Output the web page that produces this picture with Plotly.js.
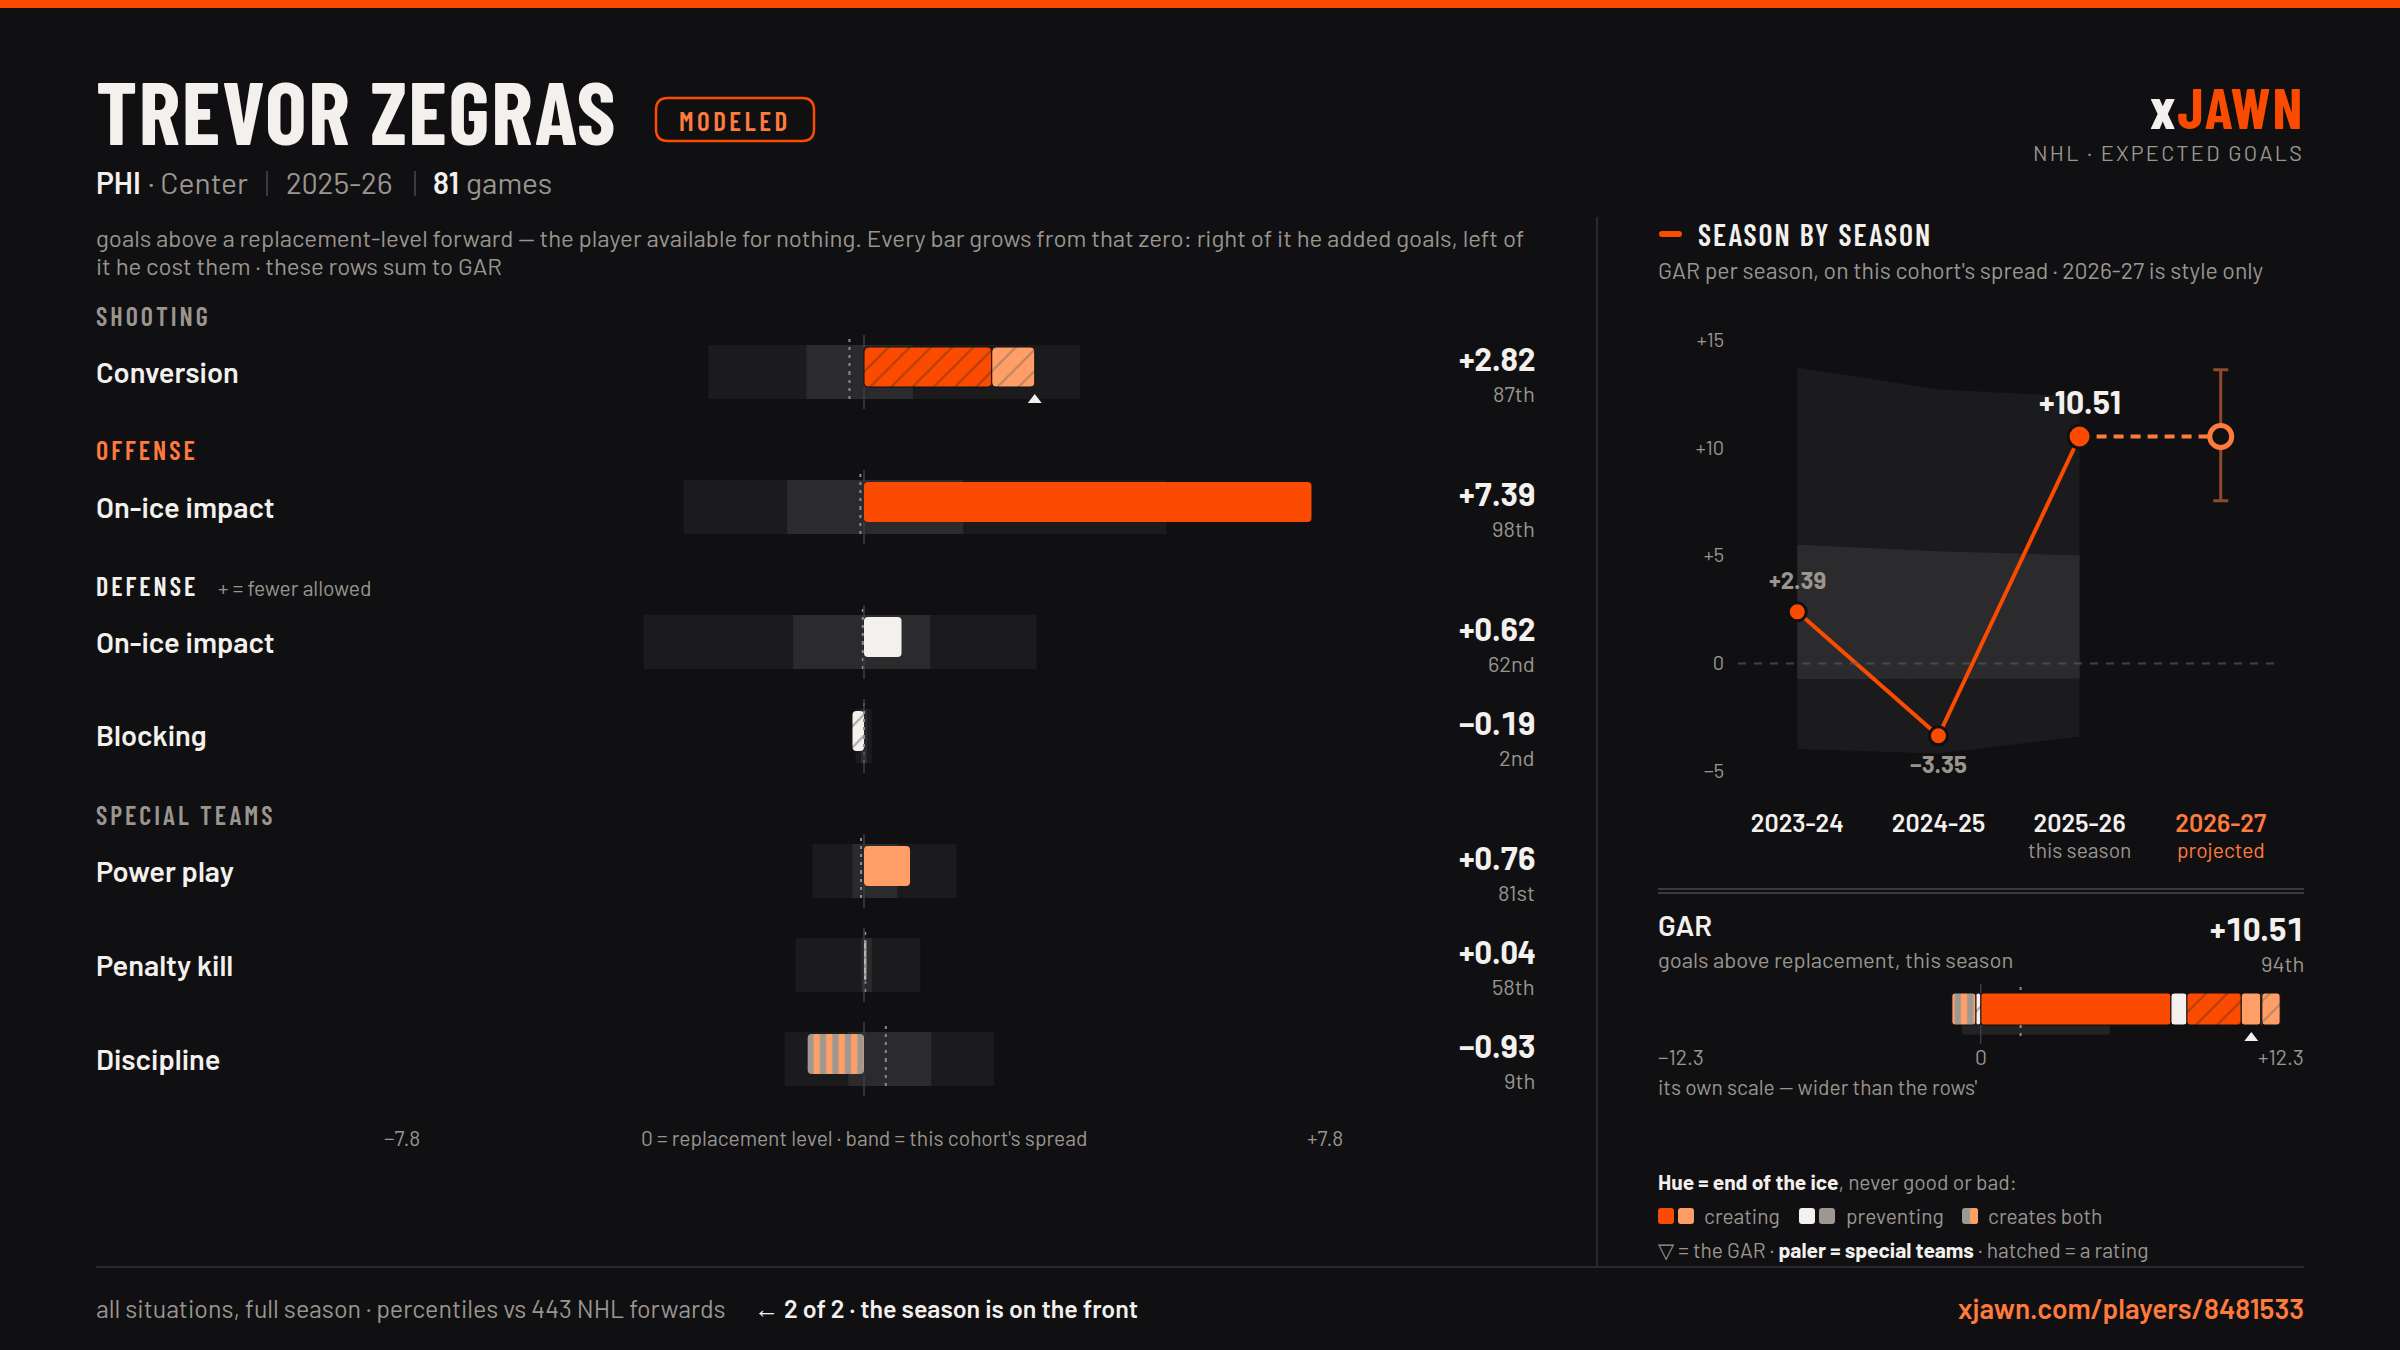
<!DOCTYPE html>
<html>
<head>
<meta charset="utf-8">
<script src="https://cdn.plot.ly/plotly-3.0.1.min.js"></script>
<style>
    html, body { margin: 0; padding: 0; background: #101012; }
    #graph { width: 2400px; height: 1350px; }
</style>
</head>
<body>
<div id="graph"></div>
<script>
//Component rows
let rowNames = ["Conversion", "On-ice impact", "On-ice impact", "Blocking", "Power play", "Penalty kill", "Discipline"];
let rowValues = [2.82, 7.39, 0.62, -0.19, 0.76, 0.04, -0.93];
let rowPercentiles = ["87th", "98th", "62nd", "2nd", "81st", "58th", "9th"];
let outerLow = [-2.57, -2.98, -3.64, -0.14, -0.85, -1.13, -1.31];
let outerHigh = [3.57, 5.0, 2.85, 0.13, 1.53, 0.93, 2.15];
let innerLow = [-0.95, -1.27, -1.17, -0.05, -0.19, -0.04, -0.26];
let innerHigh = [0.81, 1.64, 1.09, 0.05, 0.55, 0.13, 1.11];
let rowMedians = [-0.24, -0.06, -0.02, 0.0, -0.05, 0.02, 0.36];

//Pieces of the bars
let segRows = [0, 0, 1, 2, 3, 4, 5, 6];
let segValues = [2.11, 0.71, 7.39, 0.62, -0.19, 0.76, 0.04, -0.93];
let segKinds = ["creatingHatch", "paleHatch", "creating", "preventing", "preventingHatch", "pale", "sliver", "stripes"];

//Season chart
let seasons = ["2023-24", "2024-25", "2025-26", "2026-27"];
let seasonGar = [2.39, -3.35, 10.51];
let seasonOuterHigh = [13.7, 12.68, 12.37];
let seasonOuterLow = [-3.96, -4.17, -3.38];
let seasonInnerHigh = [5.5, 5.2, 5.0];
let seasonInnerLow = [-0.72, -0.72, -0.7];
let projectedGar = 10.51;
let projectedHigh = 13.6;
let projectedLow = 7.53;
let seasonTicks = [-5, 0, 5, 10, 15];

//GAR stacked bar
let garValue = 10.51;
let garPercentile = "94th";
let garRange = 12.3;
let garBandLow = -0.73;
let garBandHigh = 5.02;
let garMedian = 1.55;
let garPositiveOrder = [2, 3, 0, 5, 6, 1];
let garNegativeOrder = [4, 7];

//Style stuff
let BG = "#101012";
let ORANGE = "#FA4B00";
let PALE = "#FF9E66";
let ACCENT = "#FF7A3D";
let WHITE = "#F3F0ED";
let STONE = "#9E9892";
let GRAY = "#9A958F";
let OUTER = "#1B1B1D";
let INNER = "#2B2B2D";
let BODY = "Barlow, Roboto, sans-serif";
let NARROW = "'Barlow Condensed', 'Liberation Sans Narrow', Roboto, sans-serif";
let W = 2400, H = 1350;

let kinds = {
    creating: {color: ORANGE},
    pale: {color: PALE},
    preventing: {color: WHITE},
    sliver: {color: "#B8B3AD"},
    creatingHatch: {color: ORANGE, pattern: {shape: "/", bgcolor: ORANGE, fgcolor: "#B23C0A", size: 15, solidity: 0.13}},
    paleHatch: {color: PALE, pattern: {shape: "/", bgcolor: PALE, fgcolor: "#B98560", size: 15, solidity: 0.13}},
    preventingHatch: {color: WHITE, pattern: {shape: "/", bgcolor: WHITE, fgcolor: "#A9A6A3", size: 15, solidity: 0.13}},
    stripes: {color: PALE, pattern: {shape: "|", bgcolor: PALE, fgcolor: STONE, size: 12.5, solidity: 0.5}}
};

let fmt = (v)=>{
    return (v < 0 ? "\u2212" : "+") + Math.abs(v).toFixed(2);
}

let tabular = (str)=>{
    return `<span style="font-variant-numeric:tabular-nums">${str}</span>`;
}

let traces = [];
let annotations = [];
let shapes = [];

let text = (str, x, y, size, color, opts)=>{
    opts = opts || {};
    annotations.push({
        text: str,
        xref: "paper", yref: "paper",
        x: x / W, y: 1 - (y - 1) / H,
        xanchor: opts.anchor || "left", yanchor: "middle",
        showarrow: false, borderpad: 0,
        font: {family: opts.family || BODY, size: size, color: color, weight: opts.weight || 400}
    });
}

let pxLine = (x0, y0, x1, y1, color, width)=>{
    shapes.push({
        type: "line", xref: "paper", yref: "paper",
        x0: x0 / W, x1: x1 / W, y0: 1 - y0 / H, y1: 1 - y1 / H,
        line: {color: color, width: width}
    });
}

let roundRect = (x0, y0, x1, y1, r, fill, stroke, strokeWidth)=>{
    let px = (x)=> (x / W).toFixed(5);
    let py = (y)=> (1 - y / H).toFixed(5);
    let path = `M${px(x0 + r)},${py(y0)} L${px(x1 - r)},${py(y0)} Q${px(x1)},${py(y0)} ${px(x1)},${py(y0 + r)} ` +
        `L${px(x1)},${py(y1 - r)} Q${px(x1)},${py(y1)} ${px(x1 - r)},${py(y1)} L${px(x0 + r)},${py(y1)} ` +
        `Q${px(x0)},${py(y1)} ${px(x0)},${py(y1 - r)} L${px(x0)},${py(y0 + r)} Q${px(x0)},${py(y0)} ${px(x0 + r)},${py(y0)} Z`;
    shapes.push({type: "path", xref: "paper", yref: "paper", path: path, fillcolor: fill, line: {color: stroke || fill, width: strokeWidth || 0}});
}

let hBar = (value, base, axes, width, offset, marker)=>{
    traces.push({
        type: "bar", orientation: "h",
        x: [value], y: [0], base: [base],
        width: [width], offset: [offset],
        xaxis: axes[0], yaxis: axes[1],
        marker: marker, hoverinfo: "skip", showlegend: false
    });
}

//a vertical rule that stops at the bar and picks up again below it
let vLine = (x, top, barTop, barBottom, bottom, axes, line)=>{
    traces.push({
        type: "scatter", mode: "lines",
        x: [x, x, null, x, x], y: [top, barTop, null, barBottom, bottom],
        xaxis: axes[0], yaxis: axes[1],
        line: line, hoverinfo: "skip", showlegend: false
    });
}

let triangle = (x, y, axes)=>{
    traces.push({
        type: "scatter", mode: "markers",
        x: [x], y: [y],
        xaxis: axes[0], yaxis: axes[1],
        marker: {symbol: "triangle-up", size: 12, color: WHITE},
        hoverinfo: "skip", showlegend: false
    });
}

//Rows
let layout = {
    width: W, height: H,
    paper_bgcolor: BG, plot_bgcolor: "rgba(0,0,0,0)",
    margin: {l: 0, r: 0, t: 0, b: 0},
    barmode: "overlay",
    showlegend: false,
    xaxis: {visible: false, range: [-7.8, 7.8], domain: [391.7 / W, 1336.3 / W], anchor: "y", fixedrange: true}
};

let rowTops = [335, 470, 605, 699, 834, 928, 1022];
let ROW_H = 74;

let drawRows = ()=>{
    for(let i = 0; i < rowNames.length; i++){
        let axisName = i === 0 ? "yaxis" : `yaxis${i + 1}`;
        let yRef = i === 0 ? "y" : `y${i + 1}`;
        let top = rowTops[i];
        layout[axisName] = {visible: false, range: [-0.5, 0.5], domain: [1 - (top + ROW_H) / H, 1 - top / H], anchor: "x", fixedrange: true};
        let axes = ["x", yRef];

        let bandW = 54 / ROW_H;
        hBar(outerHigh[i] - outerLow[i], outerLow[i], axes, bandW, -bandW / 2, {color: OUTER, cornerradius: 0});
        hBar(innerHigh[i] - innerLow[i], innerLow[i], axes, bandW, -bandW / 2, {color: INNER, cornerradius: 0});

        //pieces stack out from zero
        let posBase = 0, negBase = 0;
        for(let s = 0; s < segValues.length; s++){
            if(segRows[s] !== i){
                continue;
            }
            let base = segValues[s] >= 0 ? posBase : negBase;
            let marker = Object.assign({cornerradius: 4}, kinds[segKinds[s]]);
            //only the two conversion pieces need a gap between them
            marker.line = {color: BG, width: i === 0 ? 1 : 0};
            hBar(segValues[s], base, axes, 40 / ROW_H, -15 / ROW_H, marker);
            if(segValues[s] >= 0){
                posBase += segValues[s];
            }else{
                negBase += segValues[s];
            }
        }

        vLine(rowMedians[i], 0.446, 0, 0, -0.432, axes, {color: "#8E8E90", width: 2, dash: "3px,5px"});
        vLine(0, 0.5, 25 / ROW_H, -15 / ROW_H, -0.5, axes, {color: "#3C3C44", width: 1.5});

        text(rowNames[i], 95, top + 37, 29, WHITE, {weight: 600});
        text(tabular(fmt(rowValues[i])), 1536, top + 24, 32, WHITE, {anchor: "right", weight: 700});
        text(rowPercentiles[i], 1536, top + 59, 22, GRAY, {anchor: "right"});
    }
    triangle(rowValues[0], -0.378, ["x", "y"]);

    annotations.push({
        text: "\u22127.8", xref: "x", yref: "paper", x: -7.8, xshift: 10, y: 1 - 1137 / H,
        xanchor: "center", yanchor: "middle", showarrow: false,
        font: {family: BODY, size: 21, color: GRAY}
    });
    annotations.push({
        text: "+7.8", xref: "x", yref: "paper", x: 7.8, xshift: -11, y: 1 - 1137 / H,
        xanchor: "center", yanchor: "middle", showarrow: false,
        font: {family: BODY, size: 21, color: GRAY}
    });
    text("0 = replacement level \u00b7 band = this cohort's spread", 864, 1138, 21, GRAY, {anchor: "center"});
}

//Season chart
let drawSeasons = ()=>{
    let axes = ["x2", "y8"];
    let past = seasons.slice(0, 3);
    let area = (values, fillTo, color)=>{
        traces.push({
            type: "scatter", mode: "lines", x: past, y: values,
            xaxis: axes[0], yaxis: axes[1],
            line: {width: 0}, fill: fillTo, fillcolor: color,
            hoverinfo: "skip", showlegend: false
        });
    }
    area(seasonOuterLow, "none", OUTER);
    area(seasonOuterHigh, "tonexty", OUTER);
    area(seasonInnerLow, "none", INNER);
    area(seasonInnerHigh, "tonexty", INNER);

    traces.push({
        type: "scatter", mode: "lines",
        x: seasons.slice(2), y: [seasonGar[2], projectedGar],
        xaxis: axes[0], yaxis: axes[1],
        line: {color: ACCENT, width: 4, dash: "10px,7px"},
        hoverinfo: "skip", showlegend: false
    });
    traces.push({
        type: "scatter", mode: "lines+markers",
        x: past, y: seasonGar,
        xaxis: axes[0], yaxis: axes[1],
        line: {color: ORANGE, width: 4},
        marker: {color: ORANGE, opacity: 1, size: [18, 18, 23], line: {color: BG, width: 3}},
        hoverinfo: "skip", showlegend: false
    });
    traces.push({
        type: "scatter", mode: "markers",
        x: [seasons[3]], y: [projectedGar],
        xaxis: axes[0], yaxis: axes[1],
        error_y: {type: "data", symmetric: false, array: [projectedHigh - projectedGar], arrayminus: [projectedGar - projectedLow], color: "#8D4A2C", thickness: 3, width: 7.5},
        marker: {color: BG, size: 22, line: {color: ACCENT, width: 5}},
        hoverinfo: "skip", showlegend: false
    });

    layout.xaxis2 = {
        type: "category", categoryorder: "array", categoryarray: seasons,
        range: [-0.42, 3.42], domain: [1738 / W, 2280 / W], anchor: "y8", fixedrange: true,
        showgrid: false, zeroline: false, showline: false,
        ticks: "outside", ticklen: 10.5, tickcolor: "rgba(0,0,0,0)",
        tickvals: seasons,
        ticktext: [seasons[0], seasons[1], seasons[2], `<span style="fill:${ACCENT}">${seasons[3]}</span>`],
        tickfont: {family: BODY, size: 25, color: WHITE, weight: 600}
    };
    layout.yaxis8 = {
        range: [-5.86, 16.83], domain: [1 - 790 / H, 1 - 300 / H], anchor: "x2", fixedrange: true,
        showgrid: false, zeroline: false, showline: false,
        ticks: "outside", ticklen: 9, tickcolor: "rgba(0,0,0,0)",
        tickvals: seasonTicks,
        ticktext: seasonTicks.map((v)=> v === 0 ? "0" : (v < 0 ? "\u2212" : "+") + Math.abs(v)),
        tickfont: {family: BODY, size: 20, color: GRAY}
    };

    shapes.push({
        type: "line", xref: "x2 domain", yref: "y8", x0: 0, x1: 1.004, y0: 0, y1: 0, layer: "above",
        line: {color: "rgba(90,90,94,0.7)", width: 2, dash: "8px,8px"}
    });

    let valueLabel = (i, shift, color, size)=>{
        annotations.push({
            text: fmt(seasonGar[i]), xref: "x2", yref: "y8", x: seasons[i], y: seasonGar[i],
            yshift: shift, xanchor: "center", yanchor: "middle", showarrow: false,
            font: {family: BODY, size: size, color: color, weight: 700}
        });
    }
    valueLabel(0, 32, GRAY, 24);
    valueLabel(1, -28, GRAY, 24);
    valueLabel(2, 35, WHITE, 32);

    let subLabel = (i, str, color)=>{
        annotations.push({
            text: str, xref: "x2", yref: "paper", x: seasons[i], y: 1 - 849.5 / H,
            xanchor: "center", yanchor: "middle", showarrow: false,
            font: {family: BODY, size: 21, color: color}
        });
    }
    subLabel(2, "this season", GRAY);
    subLabel(3, "projected", ACCENT);
}

//GAR bar on its own scale
let drawGar = ()=>{
    let axes = ["x3", "y9"];
    layout.xaxis3 = {visible: false, range: [-garRange, garRange], domain: [1664 / W, 2297.4 / W], anchor: "y9", fixedrange: true};
    layout.yaxis9 = {visible: false, range: [-0.5, 0.5], domain: [1 - 1044 / H, 1 - 984 / H], anchor: "x3", fixedrange: true};

    hBar(garBandHigh - garBandLow, garBandLow, axes, 41 / 60, -20.5 / 60, {color: "#232326", cornerradius: 0});

    let stack = (order)=>{
        let base = 0;
        for(let idx of order){
            let marker = Object.assign({cornerradius: 3}, kinds[segKinds[idx]]);
            marker.line = {color: BG, width: 1};
            hBar(segValues[idx], base, axes, 32 / 60, -11 / 60, marker);
            base += segValues[idx];
        }
    }
    stack(garPositiveOrder);
    stack(garNegativeOrder);

    vLine(garMedian, 0.45, 21 / 60, -11 / 60, -0.433, axes, {color: "#8E8E90", width: 2, dash: "3px,5px"});
    vLine(0, 0.5, 21 / 60, -11 / 60, -0.5, axes, {color: "#3C3C44", width: 1.5});
    triangle(garValue, -0.4, axes);
}

//All the text around the marks
let drawFrame = ()=>{
    shapes.push({type: "rect", xref: "paper", yref: "paper", x0: 0, x1: 1, y0: 1 - 8 / H, y1: 1, fillcolor: ORANGE, line: {width: 0}});

    text(`<span style="letter-spacing:1.6px">TREVOR ZEGRAS</span>`, 95, 111, 88, WHITE, {family: NARROW, weight: 700});
    roundRect(656, 98, 814, 141, 12, "rgba(0,0,0,0)", ORANGE, 2.5);
    text(`<span style="letter-spacing:3.5px">MODELED</span>`, 735, 121, 27, ACCENT, {family: NARROW, anchor: "center", weight: 600});

    text("PHI", 95, 182.5, 30, WHITE, {weight: 600});
    text("\u00b7 Center", 147, 182.5, 30, GRAY);
    pxLine(267, 171, 267, 196, "#3A3A3E", 2);
    text(tabular("2025-26"), 285, 182.5, 30, GRAY);
    pxLine(415, 171, 415, 196, "#3A3A3E", 2);
    text("81", 432, 182.5, 30, WHITE, {weight: 600});
    text("games", 465, 182.5, 30, GRAY);

    text("goals above a replacement-level forward \u2014 the player available for nothing. Every bar grows from that zero: right of it he added goals, left of", 95, 238.5, 24, GRAY);
    text("it he cost them \u00b7 these rows sum to GAR", 95, 267, 24, GRAY);

    text(`<span style="letter-spacing:3px">SHOOTING</span>`, 95, 316, 26, GRAY, {family: NARROW, weight: 600});
    text(`<span style="letter-spacing:3px">OFFENSE</span>`, 95, 451, 26, ACCENT, {family: NARROW, weight: 600});
    text(`<span style="letter-spacing:3px">DEFENSE</span>`, 95, 586, 26, WHITE, {family: NARROW, weight: 600});
    text("+ = fewer allowed", 217, 589, 21, GRAY);
    text(`<span style="letter-spacing:3px">SPECIAL TEAMS</span>`, 95, 815.5, 26, GRAY, {family: NARROW, weight: 600});

    text(`<span style="letter-spacing:2px"><span style="fill:${WHITE}">x</span><span style="fill:${ORANGE}">JAWN</span></span>`, 2305, 107, 58, ORANGE, {family: NARROW, anchor: "right", weight: 700});
    text(`<span style="letter-spacing:2.3px">NHL \u00b7 EXPECTED GOALS</span>`, 2305, 153, 21.5, GRAY, {anchor: "right"});

    pxLine(1597, 217, 1597, 1266, "#2A2A2C", 2);
    roundRect(1659, 231, 1682, 237, 3, ORANGE);
    text(`<span style="letter-spacing:2px">SEASON BY SEASON</span>`, 1697, 235, 30, WHITE, {family: NARROW, weight: 600});
    text("GAR per season, on this cohort's spread \u00b7 2026-27 is style only", 1657, 271, 23, GRAY);

    pxLine(1658, 889, 2304, 889, "#3A3A3E", 2);
    pxLine(1658, 893, 2304, 893, "#3A3A3E", 2);

    text("GAR", 1657, 925, 29, WHITE, {weight: 600});
    text("goals above replacement, this season", 1657, 960, 22, GRAY);
    text(tabular(fmt(garValue)), 2305, 928.5, 32, WHITE, {anchor: "right", weight: 700});
    text(garPercentile, 2305, 964, 22, GRAY, {anchor: "right"});
    text("\u221212.3", 1657, 1057, 21, GRAY);
    text("0", 1981, 1057, 21, GRAY, {anchor: "center"});
    text("+12.3", 2305, 1057, 21, GRAY, {anchor: "right"});
    text("its own scale \u2014 wider than the rows'", 1657, 1087, 21, GRAY);

    text(`<span style="font-weight:700;fill:${WHITE}">Hue = end of the ice</span>, never good or bad:`, 1657, 1182, 21, GRAY);
    roundRect(1658, 1208, 1674, 1224, 3, ORANGE);
    roundRect(1678, 1208, 1694, 1224, 3, PALE);
    text("creating", 1703, 1216, 21, GRAY);
    roundRect(1799, 1208, 1815, 1224, 3, WHITE);
    roundRect(1819, 1208, 1835, 1224, 3, STONE);
    text("preventing", 1845, 1216, 21, GRAY);
    roundRect(1962, 1208, 1978, 1224, 3, STONE);
    roundRect(1970, 1208, 1978, 1224, 3, PALE);
    text("creates both", 1987, 1216, 21, GRAY);
    text(`\u25bd = the GAR \u00b7 <span style="font-weight:700;fill:${WHITE}">paler = special teams</span> \u00b7 hatched = a rating`, 1657, 1250, 21, GRAY);

    pxLine(96, 1267, 2304, 1267, "#2A2A2C", 2);
    text("all situations, full season \u00b7 percentiles vs 443 NHL forwards", 95, 1309, 25, GRAY);
    text("\u2190 2 of 2 \u00b7 the season is on the front", 753, 1309, 25, WHITE, {weight: 600});
    text("xjawn.com/players/8481533", 2305, 1309, 28, ACCENT, {anchor: "right", weight: 600});
}

drawRows();
drawSeasons();
drawGar();
drawFrame();

layout.annotations = annotations;
layout.shapes = shapes;

Plotly.newPlot("graph", traces, layout, {displayModeBar: false, staticPlot: true});
</script>
</body>
</html>
